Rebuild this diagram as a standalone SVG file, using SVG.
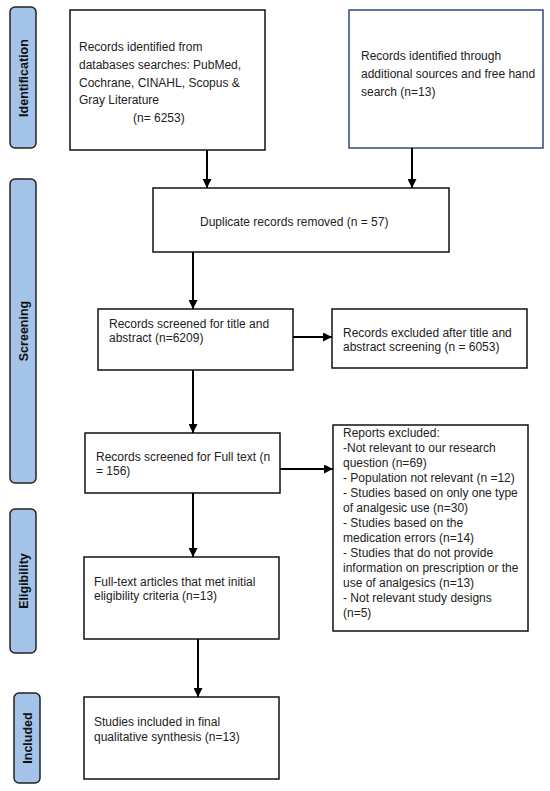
<svg xmlns="http://www.w3.org/2000/svg" width="550" height="791" viewBox="0 0 550 791">
<style>
.box{fill:#fff;stroke:#111;stroke-width:1.5}
.box2{fill:#fff;stroke:#2f4a78;stroke-width:1.5}
.phase{fill:#a3c4e8;stroke:#222;stroke-width:1.5}
.pt{font-family:"Liberation Sans",Arial,sans-serif;font-size:12.5px;font-weight:bold;fill:#111;text-anchor:middle}
.t{font-family:"Liberation Sans",Arial,sans-serif;font-size:12px;fill:#222}
.c{stroke:#000;stroke-width:2;fill:none;marker-end:url(#ah)}
</style>
<defs>
<marker id="ah" viewBox="0 0 10 10" refX="10" refY="5" markerWidth="4.5" markerHeight="4.5" orient="auto" markerUnits="strokeWidth">
<path d="M0,0 L10,5 L0,10 z" fill="#000"/>
</marker>
</defs>
<rect width="550" height="791" fill="#fff"/>
<g id="phase-identification"><rect class="phase" x="10" y="7" width="26" height="141" rx="5"/><text class="pt" transform="translate(27.5,78) rotate(-90)">Identification</text></g>
<g id="phase-screening"><rect class="phase" x="10" y="179" width="26" height="304" rx="5"/><text class="pt" transform="translate(27.5,331) rotate(-90)">Screening</text></g>
<g id="phase-eligibility"><rect class="phase" x="10" y="509" width="26" height="144" rx="5"/><text class="pt" transform="translate(27.5,581) rotate(-90)">Eligibility</text></g>
<g id="phase-included"><rect class="phase" x="14" y="693" width="26" height="90" rx="5"/><text class="pt" transform="translate(31.5,738) rotate(-90)">Included</text></g>
<g id="db-records"><rect class="box" x="70" y="10" width="195" height="140"/>
<text class="t"><tspan x="79" y="51">Records identified from</tspan><tspan x="79" y="69">databases searches: PubMed,</tspan><tspan x="79" y="87">Cochrane, CINAHL, Scopus &amp;</tspan><tspan x="79" y="104">Gray Literature</tspan><tspan x="133" y="122">(n= 6253)</tspan></text></g>
<g id="other-records"><rect class="box2" x="349" y="10" width="194" height="138"/>
<text class="t"><tspan x="361" y="60">Records identified through</tspan><tspan x="361" y="78">additional sources and free hand</tspan><tspan x="361" y="96">search (n=13)</tspan></text></g>
<g id="duplicates"><rect class="box" x="153" y="188" width="296" height="64"/>
<text class="t" x="200" y="226">Duplicate records removed (n = 57)</text></g>
<g id="screened"><rect class="box" x="98" y="309" width="195" height="61"/>
<text class="t"><tspan x="109" y="328">Records screened for title and</tspan><tspan x="109" y="342">abstract (n=6209)</tspan></text></g>
<g id="excluded"><rect class="box" x="332" y="309" width="195" height="59"/>
<text class="t"><tspan x="343" y="337">Records excluded after title and</tspan><tspan x="343" y="351">abstract screening (n = 6053)</tspan></text></g>
<g id="fulltext"><rect class="box" x="85" y="433" width="195" height="60"/>
<text class="t"><tspan x="96" y="461">Records screened for Full text (n</tspan><tspan x="96" y="475">= 156)</tspan></text></g>
<g id="reports-excluded"><rect class="box" x="333" y="425" width="195" height="206"/>
<text class="t"><tspan x="343" y="437">Reports excluded:</tspan><tspan x="343" y="452">-Not relevant to our research</tspan><tspan x="343" y="467">question (n=69)</tspan><tspan x="343" y="482">- Population not relevant (n =12)</tspan><tspan x="343" y="497">- Studies based on only one type</tspan><tspan x="343" y="512">of analgesic use (n=30)</tspan><tspan x="343" y="527">- Studies based on the</tspan><tspan x="343" y="542">medication errors (n=14)</tspan><tspan x="343" y="557">- Studies that do not provide</tspan><tspan x="343" y="572">information on prescription or the</tspan><tspan x="343" y="587">use of analgesics (n=13)</tspan><tspan x="343" y="602">- Not relevant study designs</tspan><tspan x="343" y="617">(n=5)</tspan></text></g>
<g id="eligible"><rect class="box" x="84" y="557" width="195" height="82"/>
<text class="t"><tspan x="94" y="586">Full-text articles that met initial</tspan><tspan x="94" y="600">eligibility criteria (n=13)</tspan></text></g>
<g id="included"><rect class="box" x="84" y="697" width="195" height="82"/>
<text class="t"><tspan x="94" y="726">Studies included in final</tspan><tspan x="94" y="741">qualitative synthesis (n=13)</tspan></text></g>
<g id="connectors">
<line class="c" x1="207" y1="150" x2="207" y2="188"/>
<line class="c" x1="412" y1="148" x2="412" y2="188"/>
<line class="c" x1="193" y1="252" x2="193" y2="309"/>
<line class="c" x1="293" y1="337" x2="332" y2="337"/>
<line class="c" x1="193" y1="370" x2="193" y2="433"/>
<line class="c" x1="280" y1="469" x2="333" y2="469"/>
<line class="c" x1="193" y1="493" x2="193" y2="557"/>
<line class="c" x1="198" y1="639" x2="198" y2="697"/>
</g>
</svg>
